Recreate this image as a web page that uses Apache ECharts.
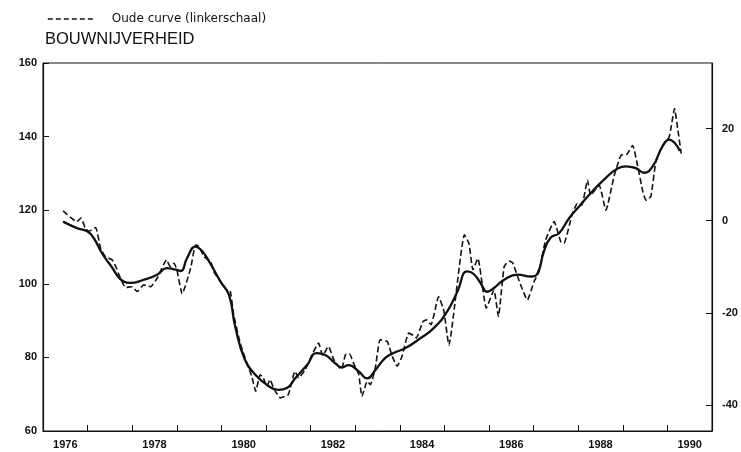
<!DOCTYPE html>
<html>
<head>
<meta charset="utf-8">
<script src="https://cdn.jsdelivr.net/npm/echarts@6/dist/echarts.min.js"></script>
<style>
    html, body { margin: 0; padding: 0; background: #fff; }
    #chart { width: 741px; height: 452px; }
</style>
</head>
<body>
<div id="chart"></div>
<script>
// jaren op de x-as (labels om het jaar)
var years = ['1976', '1977', '1978', '1979', '1980', '1981', '1982', '1983', '1984', '1985', '1986', '1987', '1988', '1989', '1990'];
var leftTicks = [60, 80, 100, 120, 140, 160];
var rightTicks = [-40, -20, 0, 20];

// oude curve, linkerschaal: [jaar, waarde]
var oudeCurve = [
    [1976.45, 119.8], [1976.76, 116.9], [1976.85, 117.9], [1976.95, 115.1], [1977.03, 114.3], [1977.18, 115.3],
    [1977.29, 109.7], [1977.40, 107.4], [1977.55, 106.5], [1977.63, 104.7], [1977.72, 102.0], [1977.85, 99.0],
    [1978.00, 99.2], [1978.11, 97.9], [1978.26, 99.7], [1978.41, 99.2], [1978.56, 101.5], [1978.77, 106.5],
    [1978.85, 104.7], [1978.94, 105.6], [1979.01, 103.3], [1979.12, 97.3], [1979.31, 104.2], [1979.42, 110.5],
    [1979.50, 110.1], [1979.61, 107.4], [1979.76, 106.0], [1979.83, 103.3], [1979.98, 100.6], [1980.13, 98.3],
    [1980.19, 98.3], [1980.27, 92.0], [1980.42, 83.9], [1980.57, 78.5], [1980.68, 74.9], [1980.77, 70.8],
    [1980.87, 75.3], [1980.94, 74.4], [1981.02, 72.1], [1981.09, 74.0], [1981.17, 71.7], [1981.32, 69.0],
    [1981.50, 69.9], [1981.65, 76.2], [1981.73, 74.4], [1981.88, 76.7], [1982.03, 80.7], [1982.18, 83.9],
    [1982.27, 80.5], [1982.40, 83.0], [1982.52, 79.4], [1982.69, 76.7], [1982.78, 80.7], [1982.87, 81.0],
    [1982.96, 78.5], [1983.08, 75.3], [1983.15, 69.4], [1983.27, 73.5], [1983.34, 72.6], [1983.45, 77.1],
    [1983.56, 84.8], [1983.72, 84.3], [1983.83, 80.3], [1983.94, 77.6], [1984.05, 80.3], [1984.20, 86.6],
    [1984.30, 86.0], [1984.37, 85.3], [1984.52, 89.8], [1984.60, 90.2], [1984.70, 88.9], [1984.87, 96.5],
    [1984.99, 92.5], [1985.10, 83.4], [1985.45, 113.3], [1985.55, 111.0], [1985.64, 103.8], [1985.75, 106.9],
    [1985.94, 93.4], [1986.11, 98.3], [1986.21, 91.1], [1986.34, 104.7], [1986.45, 106.2], [1986.53, 105.7],
    [1986.70, 100.0], [1986.86, 95.6], [1987.01, 100.6], [1987.12, 103.3], [1987.27, 111.9], [1987.46, 116.9],
    [1987.61, 111.4], [1987.68, 111.0], [1987.87, 119.1], [1987.98, 121.8], [1988.08, 121.4], [1988.21, 128.2],
    [1988.28, 124.1], [1988.47, 126.8], [1988.62, 120.0], [1988.81, 129.5], [1988.96, 134.9], [1989.09, 135.2],
    [1989.22, 137.6], [1989.33, 132.2], [1989.45, 125.0], [1989.52, 122.7], [1989.63, 123.8], [1989.74, 133.1],
    [1989.89, 137.6], [1990.04, 139.9], [1990.16, 147.6], [1990.23, 142.2], [1990.31, 135.4]
];

// nieuwe curve, rechterschaal: [jaar, waarde]
var nieuweCurve = [
    [1976.45, -0.2], [1976.76, -1.6], [1976.99, -2.3], [1977.14, -3.8], [1977.32, -7.0], [1977.51, -9.6],
    [1977.81, -13.2], [1977.96, -13.5], [1978.26, -12.8], [1978.56, -11.7], [1978.78, -10.3], [1978.97, -10.6],
    [1979.09, -10.9], [1979.23, -8.1], [1979.42, -5.6], [1979.54, -6.3], [1979.68, -8.1], [1979.98, -13.2],
    [1980.17, -16.1], [1980.31, -23.0], [1980.53, -30.2], [1980.76, -33.4], [1981.02, -35.6], [1981.28, -36.7],
    [1981.47, -36.3], [1981.65, -34.2], [1981.92, -31.3], [1982.14, -28.7], [1982.33, -29.1], [1982.55, -30.9],
    [1982.70, -31.8], [1982.85, -31.3], [1983.08, -32.7], [1983.27, -34.2], [1983.45, -32.4], [1983.67, -29.8],
    [1983.86, -28.7], [1984.13, -27.6], [1984.46, -25.5], [1984.76, -23.3], [1985.06, -19.7], [1985.29, -15.4],
    [1985.51, -11.0], [1985.65, -11.5], [1985.81, -13.5], [1985.96, -15.4], [1986.11, -14.6], [1986.34, -12.8],
    [1986.64, -11.7], [1986.94, -12.1], [1987.09, -11.4], [1987.23, -6.7], [1987.38, -3.7], [1987.57, -2.7],
    [1987.80, 0.6], [1988.02, 3.1], [1988.32, 6.4], [1988.62, 9.3], [1988.85, 11.1], [1989.07, 11.8],
    [1989.29, 11.4], [1989.48, 10.4], [1989.67, 11.8], [1989.89, 16.1], [1990.04, 17.6], [1990.16, 16.9],
    [1990.28, 15.1]
];

var ink = '#111';
var labelFont = {
    color: ink,
    fontFamily: 'Liberation Sans',
    fontSize: 11,
    fontWeight: 'bold'
};

var myChart = echarts.init(document.getElementById('chart'), null, { renderer: 'canvas' });
myChart.setOption({
    animation: false,
    backgroundColor: '#fff',
    title: {
        text: 'BOUWNIJVERHEID',
        left: 40,
        top: 26,
        textStyle: {
            color: ink,
            fontFamily: 'Liberation Sans',
            fontSize: 16.5,
            fontWeight: 'normal'
        }
    },
    legend: {
        data: ['Oude curve (linkerschaal)'],
        left: 42,
        top: 8,
        itemWidth: 47,
        itemHeight: 10,
        itemStyle: { opacity: 0 },
        lineStyle: { width: 1.6, type: [5, 3] },
        textStyle: {
            color: ink,
            fontFamily: 'DejaVu Sans',
            fontSize: 12,
            padding: [0, 0, 0, 12]
        }
    },
    grid: {
        show: true,
        left: 43,
        right: 29,
        top: 63,
        bottom: 21,
        borderColor: ink,
        borderWidth: 1,
        containLabel: false
    },
    xAxis: [
        {
            type: 'category',
            data: years,
            boundaryGap: true,
            axisLine: { show: true, onZero: false, lineStyle: { color: ink, width: 1.2 } },
            axisTick: { show: true, inside: true, length: 6, interval: 0, alignWithLabel: false, lineStyle: { color: ink, width: 1 } },
            axisLabel: Object.assign({ interval: 1, margin: 8 }, labelFont),
            splitLine: { show: false }
        },
        {
            type: 'value',
            min: 1976,
            max: 1991,
            show: false
        }
    ],
    yAxis: [
        {
            type: 'value',
            position: 'left',
            min: leftTicks[0],
            max: leftTicks[leftTicks.length - 1],
            interval: 20,
            axisLine: { show: true, lineStyle: { color: ink, width: 1.2 } },
            axisTick: { show: true, inside: true, length: 6, lineStyle: { color: ink } },
            axisLabel: Object.assign({ margin: 6 }, labelFont),
            splitLine: { show: false }
        },
        {
            type: 'value',
            position: 'right',
            min: -45.6,
            max: 34.2,
            splitNumber: 4,
            axisLine: { show: true, lineStyle: { color: ink, width: 1.2 } },
            axisTick: { show: true, inside: true, length: 6, lineStyle: { color: ink } },
            axisLabel: Object.assign({
                margin: 10,
                showMinLabel: false,
                showMaxLabel: false,
                formatter: function (v) {
                    return rightTicks.indexOf(v) >= 0 ? String(v) : '';
                }
            }, labelFont),
            splitLine: { show: false }
        }
    ],
    series: [
        {
            name: 'Oude curve (linkerschaal)',
            type: 'line',
            xAxisIndex: 1,
            yAxisIndex: 0,
            data: oudeCurve,
            symbol: 'none',
            smooth: 0.15,
            lineStyle: { color: ink, width: 1.6, type: [6, 3] },
            itemStyle: { color: ink }
        },
        {
            name: 'Nieuwe curve',
            type: 'line',
            xAxisIndex: 1,
            yAxisIndex: 1,
            data: nieuweCurve,
            symbol: 'none',
            smooth: 0.5,
            lineStyle: { color: ink, width: 2.3 },
            itemStyle: { color: ink }
        }
    ]
});
</script>
</body>
</html>
